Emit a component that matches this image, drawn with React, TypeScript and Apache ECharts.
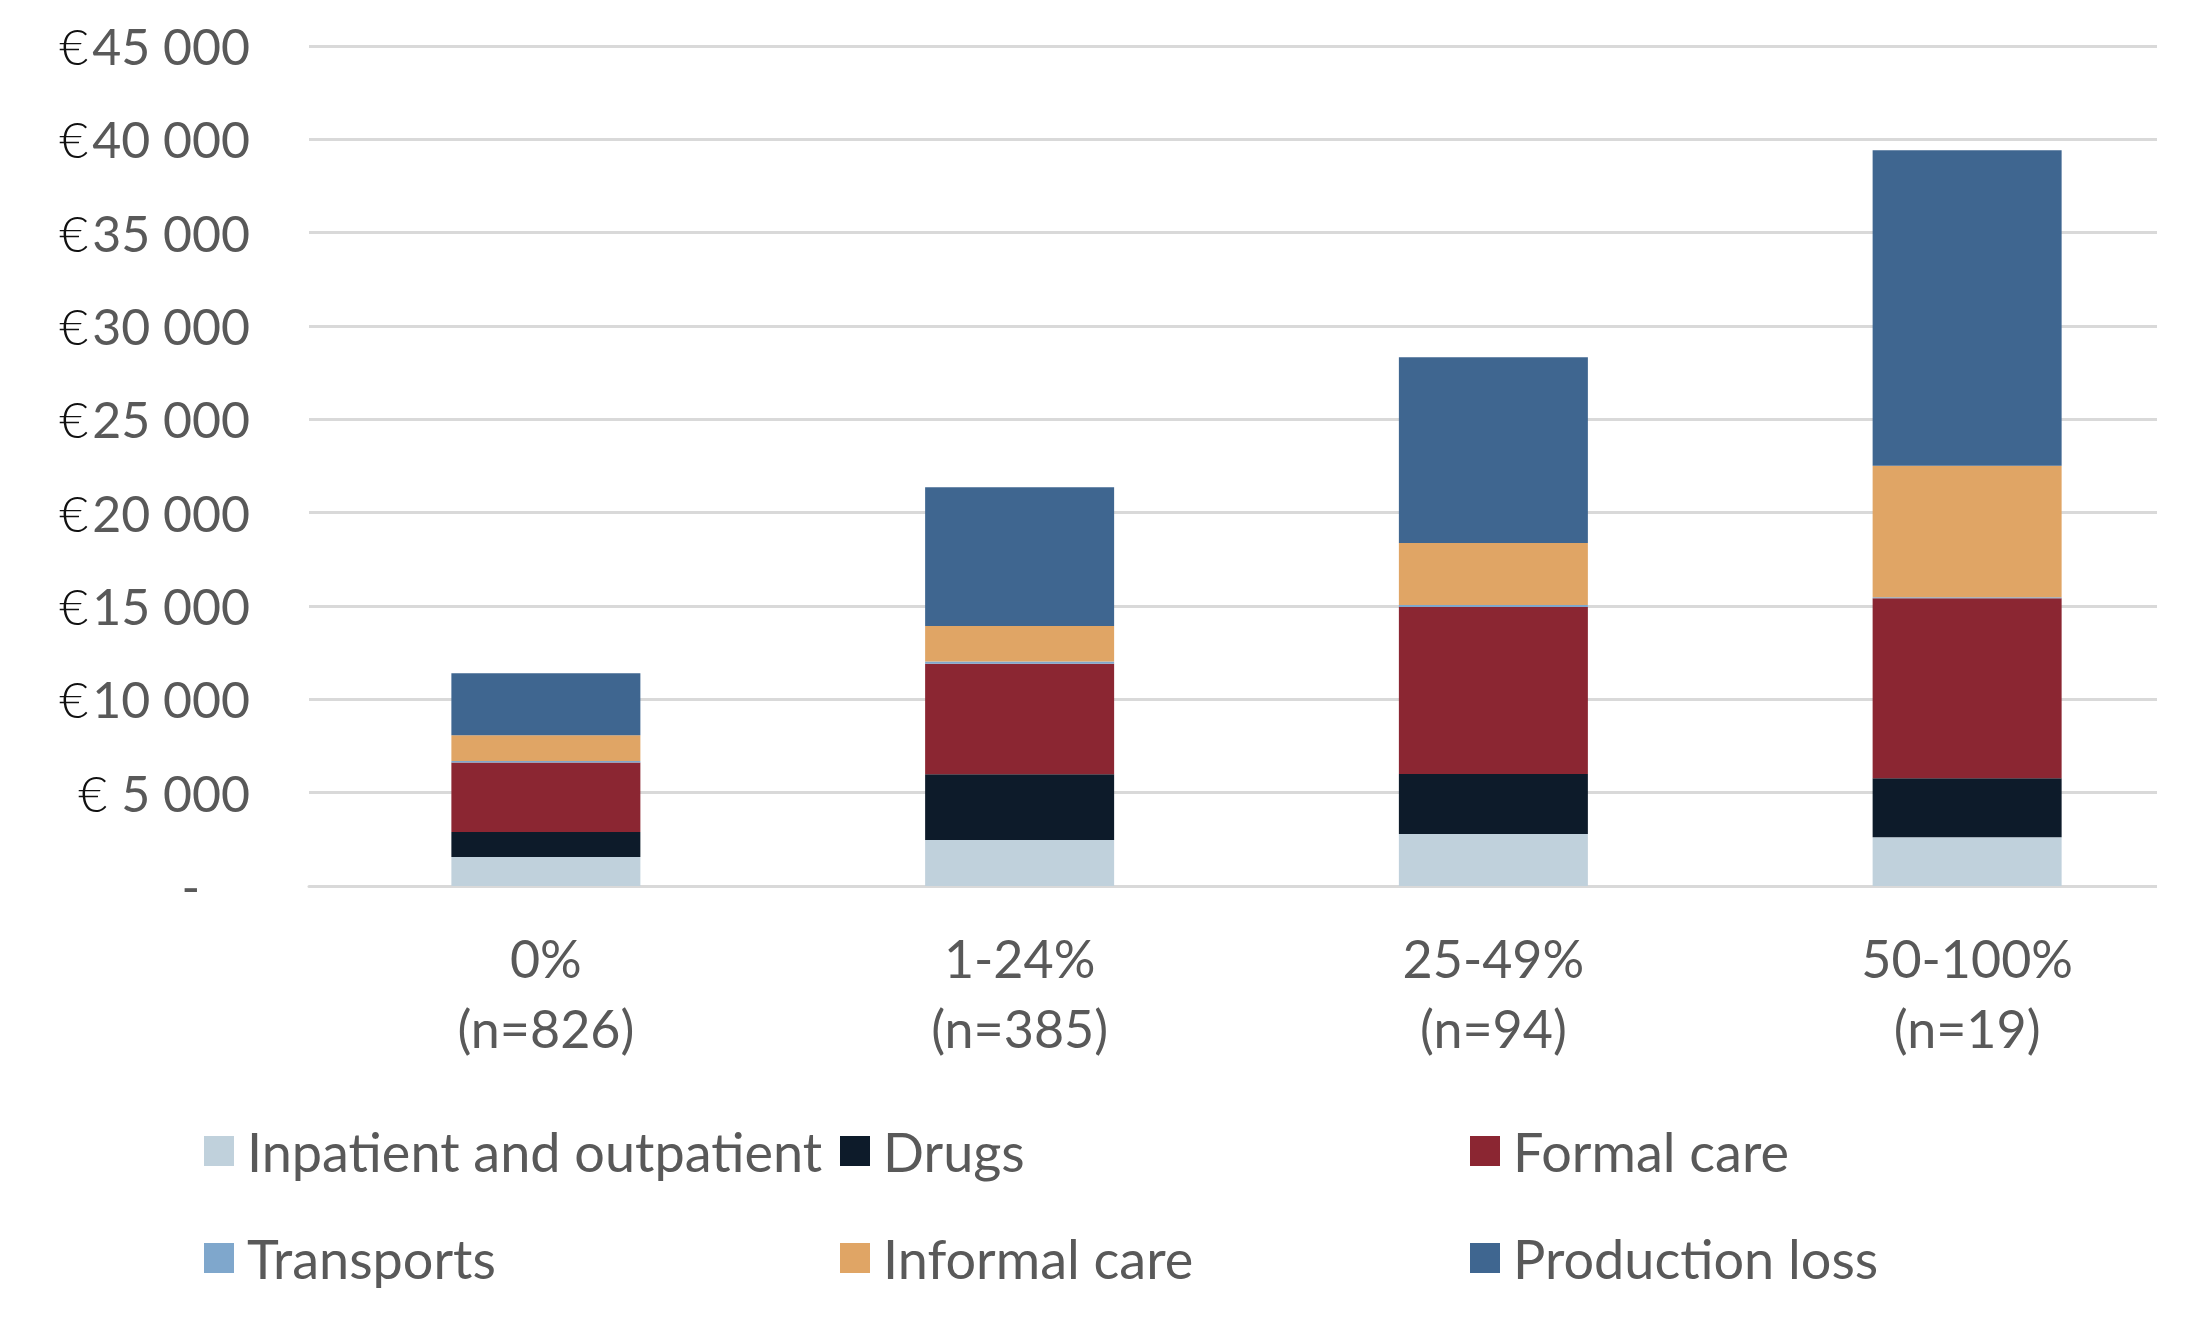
import React, { useEffect, useRef } from "react";
import * as echarts from "echarts";

const categories = ["0%\n(n=826)", "1-24%\n(n=385)", "25-49%\n(n=94)", "50-100%\n(n=19)"];
const inpatient = [1550, 2460, 2790, 2610];
const drugs = [1340, 3520, 3210, 3160];
const formalCare = [3720, 5930, 8950, 9650];
const transports = [90, 120, 100, 50];
const informalCare = [1380, 1900, 3330, 7040];
const productionLoss = [3320, 7430, 9950, 16910];
const seriesNames = ["Inpatient and outpatient", "Drugs", "Formal care", "Transports", "Informal care", "Production loss"];
const seriesColors = ["#c0d1dc", "#0d1b2a", "#8b2632", "#7fa7cc", "#e0a565", "#3f6690"];

const FONT = "Lato";
const GRAY = "#595959";

export default function App() {
  const ref = useRef<HTMLDivElement>(null);
  useEffect(() => {
    if (!ref.current) return;
    const chart = echarts.init(ref.current, undefined, { renderer: "svg" });
    const values = [inpatient, drugs, formalCare, transports, informalCare, productionLoss];
    const legendPos = [
      { left: 204, top: 1151 },
      { left: 840, top: 1151 },
      { left: 1470, top: 1151 },
      { left: 204, top: 1258 },
      { left: 840, top: 1258 },
      { left: 1470, top: 1258 },
    ];
    chart.setOption({
      animation: false,
      backgroundColor: "#ffffff",
      grid: { left: 309, top: 46, width: 1896, height: 840, containLabel: false },
      legend: seriesNames.map((n, i) => ({
        data: [n],
        left: legendPos[i].left,
        top: legendPos[i].top - 32,
        padding: 0,
        icon: "rect",
        itemWidth: 30,
        itemHeight: 30,
        selectedMode: false,
        textStyle: { fontFamily: FONT, fontSize: 54, color: GRAY, lineHeight: 64, padding: [0, 0, 0, 8] },
      })),
      xAxis: {
        type: "category",
        data: categories,
        axisLine: { show: true, lineStyle: { color: "#d9d9d9", width: 3 } },
        axisTick: { show: false },
        axisLabel: { fontFamily: FONT, fontSize: 52, color: GRAY, lineHeight: 70, margin: 37, align: "center" },
      },
      yAxis: {
        type: "value",
        min: 0,
        max: 45000,
        interval: 5000,
        axisLine: { show: false },
        axisTick: { show: false },
        splitLine: { lineStyle: { color: "#d9d9d9", width: 3 } },
        axisLabel: {
          margin: 59,
          formatter: (v: number) => {
            if (v === 0) return "{d|-}";
            const s = String(v).replace(/\B(?=(\d{3})+(?!\d))/g, " ");
            return (v < 10000 ? "{e2|€}" : "{e|€}") + "{n|" + s + "}";
          },
          rich: {
            e: { fontFamily: FONT, fontWeight: 300, fontSize: 50, color: "#111111", padding: [0, 4, 0, 0] },
            e2: { fontFamily: FONT, fontWeight: 300, fontSize: 50, color: "#111111", padding: [0, 14, 0, 0] },
            n: { fontFamily: FONT, fontSize: 50, color: GRAY },
            d: { fontFamily: FONT, fontSize: 50, color: GRAY, padding: [0, 50, 0, 0] },
          },
        },
      },
      graphic: [
        { type: "rect", shape: { x: 2157, y: 0, width: 50, height: 900 }, style: { fill: "#ffffff" }, z: 100 },
      ],
      series: seriesNames.map((n, i) => ({
        name: n,
        type: "bar",
        stack: "total",
        barWidth: 189,
        data: values[i],
        itemStyle: { color: seriesColors[i] },
      })),
    });
    return () => chart.dispose();
  }, []);
  return <div ref={ref} style={{ position: "fixed", left: 0, top: 0, width: 2204, height: 1330 }} />;
}
